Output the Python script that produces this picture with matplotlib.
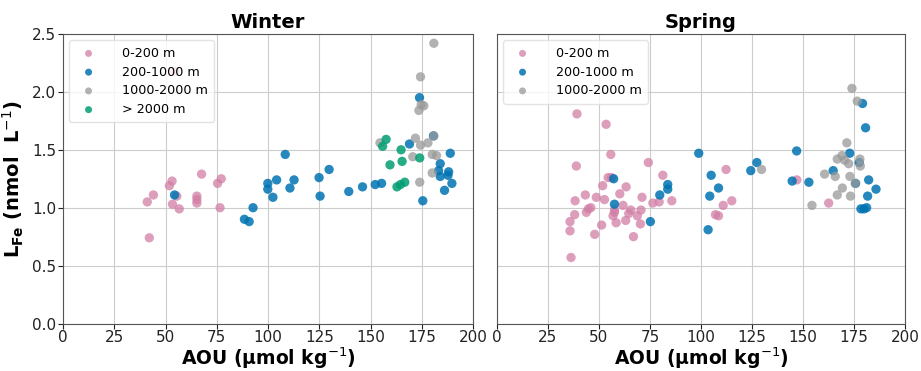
import numpy as np
import matplotlib.pyplot as plt

# Winter
w_pink_x = [41.1, 44.1, 42.1, 51.9, 53.2, 55.5, 53.4, 56.7, 54.7, 65.3, 65.3, 65.3, 67.6, 75.4, 77.2, 76.6]
w_pink_y = [1.05, 1.11, 0.74, 1.19, 1.23, 1.10, 1.03, 0.99, 2.18, 1.10, 1.07, 1.04, 1.29, 1.21, 1.25, 1.00]
w_blue_x = [54.4, 88.5, 90.8, 92.7, 99.9, 99.9, 102.4, 104.2, 108.4, 110.7, 112.7, 124.9, 125.4, 129.8,
            139.4, 146.1, 152.3, 155.4, 169.0, 173.9, 175.5, 184.0, 183.2, 184.0, 188.1, 187.8, 188.9,
            189.7, 186.1, 180.7]
w_blue_y = [1.11, 0.90, 0.88, 1.00, 1.21, 1.16, 1.09, 1.24, 1.46, 1.17, 1.24, 1.26, 1.10, 1.33,
            1.14, 1.18, 1.20, 1.21, 1.55, 1.95, 1.06, 1.38, 1.32, 1.27, 1.31, 1.28, 1.47,
            1.21, 1.15, 1.62]
w_gray_x = [180.9, 174.4, 174.7, 176.0, 173.6, 180.9, 154.6, 171.9, 174.4, 178.0, 170.6, 180.1, 182.2, 180.1, 174.0]
w_gray_y = [2.42, 2.13, 1.89, 1.88, 1.84, 1.62, 1.56, 1.60, 1.54, 1.56, 1.44, 1.46, 1.45, 1.30, 1.22]
w_green_x = [157.6, 155.9, 164.9, 159.5, 165.4, 174.0, 162.9, 164.6, 166.7]
w_green_y = [1.59, 1.53, 1.50, 1.37, 1.40, 1.43, 1.18, 1.20, 1.22]

# Spring
s_pink_x = [39.2, 53.5, 55.8, 38.9, 74.2, 81.3, 112.3, 54.5, 56.1, 51.8, 63.3, 43.3, 48.7, 52.7, 38.3,
            60.2, 71.1, 76.4, 79.5, 85.7, 115.1, 110.9, 61.8, 46.0, 44.8, 43.8, 57.6, 57.6, 65.6,
            64.6, 70.6, 68.8, 38.1, 56.9, 63.1, 58.4, 70.3, 51.3, 35.8, 35.8, 47.9, 66.9, 36.3,
            107.1, 108.6, 147.0, 162.6]
s_pink_y = [1.81, 1.72, 1.46, 1.36, 1.39, 1.28, 1.33, 1.26, 1.26, 1.19, 1.18, 1.11, 1.09, 1.07, 1.06,
            1.12, 1.09, 1.04, 1.05, 1.06, 1.06, 1.02, 1.02, 1.00, 0.99, 0.96, 0.98, 0.96, 0.98,
            0.95, 0.98, 0.93, 0.94, 0.93, 0.89, 0.87, 0.86, 0.85, 0.88, 0.80, 0.77, 0.75, 0.57,
            0.94, 0.93, 1.24, 1.04]
s_blue_x = [57.2, 57.6, 75.2, 79.8, 83.7, 83.7, 98.9, 105.0, 104.3, 108.6, 103.5, 124.4, 127.4, 146.9,
            144.7, 152.9, 179.2, 180.7, 172.9, 177.6, 164.8, 175.8, 182.2, 185.8, 181.7, 178.4, 179.9, 181.2]
s_blue_y = [1.25, 1.03, 0.88, 1.11, 1.20, 1.16, 1.47, 1.28, 1.10, 1.17, 0.81, 1.32, 1.39, 1.49,
            1.23, 1.22, 1.90, 1.69, 1.47, 1.39, 1.32, 1.21, 1.24, 1.16, 1.10, 0.99, 0.99, 1.00]
s_gray_x = [174.0, 176.6, 171.5, 169.1, 166.8, 170.4, 172.4, 177.9, 178.1, 129.7, 160.6, 165.8, 173.0,
            175.6, 169.3, 166.8, 173.3, 154.4]
s_gray_y = [2.03, 1.92, 1.56, 1.45, 1.42, 1.41, 1.38, 1.42, 1.36, 1.33, 1.29, 1.27, 1.27,
            1.21, 1.17, 1.11, 1.10, 1.02]

pink = '#d27ea5'
blue = '#0173b2'
gray = '#999999'
green = '#029e73'

fig = plt.figure(figsize=(9.21, 3.71), dpi=100)
ax1 = fig.add_axes([0.0684, 0.128, 0.4452, 0.7804])
ax2 = fig.add_axes([0.5396, 0.128, 0.4430, 0.7804], sharey=ax1)

ms = 45
ax1.scatter(w_pink_x, w_pink_y, s=ms, c=pink, alpha=0.75, edgecolors='none', label='0-200 m', zorder=3)
ax1.scatter(w_blue_x, w_blue_y, s=ms, c=blue, alpha=0.85, edgecolors='none', label='200-1000 m', zorder=3)
ax1.scatter(w_gray_x, w_gray_y, s=ms, c=gray, alpha=0.75, edgecolors='none', label='1000-2000 m', zorder=3)
ax1.scatter(w_green_x, w_green_y, s=ms, c=green, alpha=0.85, edgecolors='none', label='> 2000 m', zorder=3)

ax2.scatter(s_pink_x, s_pink_y, s=ms, c=pink, alpha=0.75, edgecolors='none', label='0-200 m', zorder=3)
ax2.scatter(s_blue_x, s_blue_y, s=ms, c=blue, alpha=0.85, edgecolors='none', label='200-1000 m', zorder=3)
ax2.scatter(s_gray_x, s_gray_y, s=ms, c=gray, alpha=0.75, edgecolors='none', label='1000-2000 m', zorder=3)

for ax, title in [(ax1, 'Winter'), (ax2, 'Spring')]:
    ax.set_xlim(0, 200)
    ax.set_ylim(0, 2.5)
    ax.set_xticks(np.arange(0, 201, 25))
    ax.set_yticks(np.arange(0, 2.51, 0.5))
    ax.grid(True, color='#cccccc', linewidth=0.8, zorder=0)
    ax.set_axisbelow(True)
    ax.tick_params(labelsize=11, colors='#222222', pad=1.5)
    ax.set_title(title, fontsize=14, fontweight='bold', pad=4)
    ax.set_xlabel('AOU (\u03bcmol kg$^{-1}$)', fontsize=13.5, fontweight='bold', labelpad=0)
    for sp in ax.spines.values():
        sp.set_color('#555555')
    leg = ax.legend(loc='upper left', fontsize=9.2, frameon=True, handletextpad=1.6,
                    borderpad=0.5, labelspacing=0.45, markerscale=0.75)
    leg.get_frame().set_edgecolor('#dddddd')

ax1.set_ylabel('L$_{\\mathbf{Fe}}$ (nmol  L$^{-1}$)', fontsize=14, fontweight='bold', labelpad=4)
plt.setp(ax2.get_yticklabels(), visible=False)
ax2.tick_params(axis='y', length=0)

fig.savefig('out.png', dpi=100)
